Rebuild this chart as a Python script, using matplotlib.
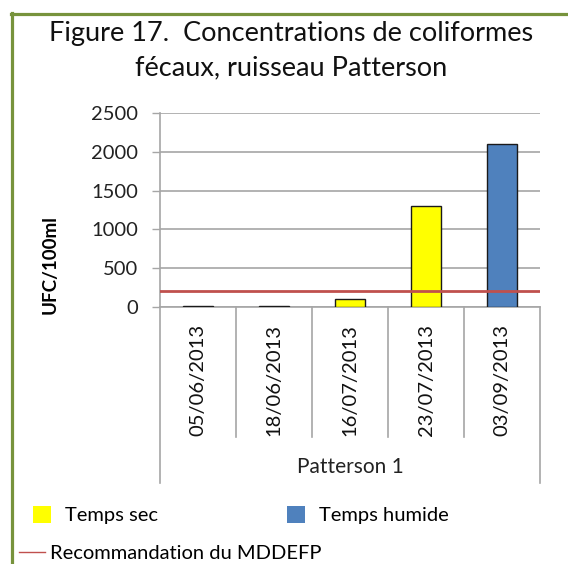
import matplotlib
matplotlib.use("Agg")
import matplotlib.pyplot as plt
import matplotlib.transforms as mtransforms
from matplotlib.lines import Line2D
from matplotlib.patches import Patch

# ---- data ----
dates = ["05/06/2013", "18/06/2013", "16/07/2013", "23/07/2013", "03/09/2013"]
values = [10, 10, 100, 1300, 2100]
weather = ["sec", "sec", "sec", "sec", "humide"]
guideline = 200
station = "Patterson 1"
yticks = [0, 500, 1000, 1500, 2000, 2500]
title_lines = ["Figure 17.  Concentrations de coliformes", "fécaux, ruisseau Patterson"]
ylabel = "UFC/100ml"
legend_labels = ["Temps sec", "Temps humide", "Recommandation du MDDEFP"]

colors = {"sec": "#FFFF00", "humide": "#4F81BD"}
red = "#C0504D"
grid_gray = "#A6A6A6"
green = "#77933C"
FONT = "Lato"

W, H = 568, 564
fig = plt.figure(figsize=(W / 100, H / 100), dpi=100)
fig.patch.set_facecolor("white")

def fx(px):
    return px / W

def fy(py):
    return 1 - py / H

# axes in pixel coordinates
L, R, T, B = 160, 540, 113, 307
ax = fig.add_axes([fx(L), fy(B), fx(R) - fx(L), fy(T) - fy(B)])

n = len(dates)
xs = [i + 0.5 for i in range(n)]
ax.bar(xs, values, width=0.4, color=[colors[w] for w in weather],
       edgecolor="#1a1a1a", linewidth=1, zorder=3)
ax.axhline(guideline, color=red, lw=2, zorder=4)

ax.set_xlim(0, n)
ax.set_ylim(0, 2500)
ax.set_yticks(yticks)
ax.set_yticklabels([str(t) for t in yticks], fontsize=14.5, family=FONT, color="#222222")
ax.yaxis.grid(True, color=grid_gray, lw=1.2, zorder=0)
ax.set_axisbelow(True)
ax.tick_params(axis="y", length=6, width=1, color=grid_gray, pad=10)

ax.set_xticks(xs)
ax.set_xticklabels(dates, rotation=90, fontsize=14.5, family=FONT, color="#111111")
ax.tick_params(axis="x", length=0, pad=12)

for s in ["top", "right"]:
    ax.spines[s].set_visible(False)
for s in ["left", "bottom"]:
    ax.spines[s].set_color(grid_gray)
    ax.spines[s].set_linewidth(1.2)

# category separators below the axis
trans = mtransforms.blended_transform_factory(ax.transData, ax.transAxes)
inner_bottom = (B - 437) / (B - T)
outer_bottom = (B - 483) / (B - T)
for i in range(n + 1):
    yb = outer_bottom if i in (0, n) else inner_bottom
    ax.plot([i, i], [0, yb], color=grid_gray, lw=1.2, transform=trans, clip_on=False)

ax.text(n / 2, (B - 467) / (B - T), station, transform=trans, ha="center", va="center",
        fontsize=15, family=FONT, color="#222222")

fig.text(fx(50), fy(265), ylabel, rotation=90, ha="center", va="center",
         fontsize=13.5, family=FONT, fontweight="bold")

# title
fig.text(fx(291), fy(33), title_lines[0], ha="center", va="center", fontsize=19.5,
         family=FONT, color="#111111")
fig.text(fx(291), fy(68), title_lines[1], ha="center", va="center", fontsize=19.5,
         family=FONT, color="#111111")

# legends
fs = 14.5
h1 = [Patch(facecolor=colors["sec"], edgecolor="none"),
      Patch(facecolor=colors["humide"], edgecolor="none")]
leg1 = fig.legend(h1, legend_labels[:2], loc="center left",
                  bbox_to_anchor=(fx(33), fy(515)), ncol=2, frameon=False,
                  prop={"family": FONT, "size": fs}, handlelength=0.9,
                  handleheight=0.9, handletextpad=0.7, columnspacing=6.4,
                  borderpad=0, borderaxespad=0)
h2 = [Line2D([0], [0], color=red, lw=1)]
leg2 = fig.legend(h2, legend_labels[2:], loc="center left",
                  bbox_to_anchor=(fx(19), fy(553)), frameon=False,
                  prop={"family": FONT, "size": fs}, handlelength=1.3,
                  handletextpad=0.25, borderpad=0, borderaxespad=0)

# green border
fig.add_artist(Line2D([fx(11.5), fx(11.5)], [fy(13), 0], color=green, lw=2.3,
                      transform=fig.transFigure))
fig.add_artist(Line2D([fx(10.5), 1], [fy(14), fy(14)], color=green, lw=2.3,
                      transform=fig.transFigure))

fig.savefig("out.png", dpi=100, facecolor="white")
